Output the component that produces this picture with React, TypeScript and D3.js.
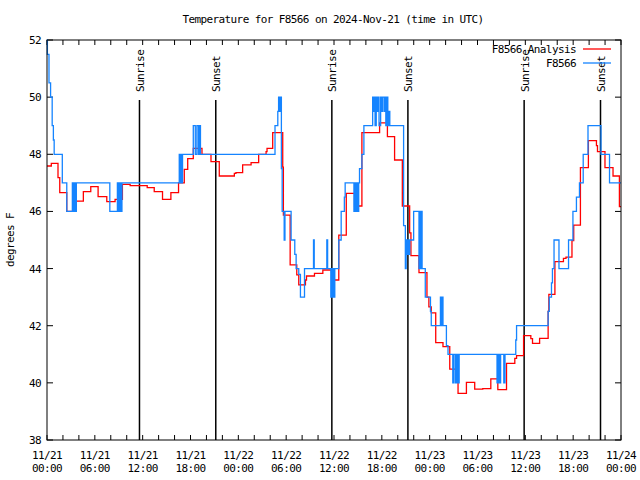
import React from "react";
import * as d3 from "d3";

const title = "Temperature for F8566 on 2024-Nov-21 (time in UTC)";
const yAxisLabel = "degrees F";
const seriesNames = ["F8566 Analysis", "F8566"];
const seriesColors = ["#ff0000", "#1584ff"];

const xTickHours = [0, 6, 12, 18, 24, 30, 36, 42, 48, 54, 60, 66, 72];
const xTickDates = ["11/21", "11/21", "11/21", "11/21", "11/22", "11/22", "11/22", "11/22", "11/23", "11/23", "11/23", "11/23", "11/24"];
const xTickTimes = ["00:00", "06:00", "12:00", "18:00", "00:00", "06:00", "12:00", "18:00", "00:00", "06:00", "12:00", "18:00", "00:00"];
const yTicks = [38, 40, 42, 44, 46, 48, 50, 52];

const sunriseHours = [11.6, 35.73, 59.85];
const sunsetHours = [21.17, 45.27, 69.43];

// [hours since 11/21 00:00 UTC, deg F]
const analysisPoints: [number, number][] = [
  [0, 47.59], [0.54, 47.68], [1.38, 47.18], [1.6, 46.66], [2.48, 46.0], [3.52, 46.19], [3.68, 46.36],
  [4.56, 46.69], [5.49, 46.87], [6.41, 46.52], [7.5, 46.34], [8.54, 46.42], [9.46, 46.95], [10.43, 46.9],
  [12.57, 46.83], [13.45, 46.69], [14.49, 46.42], [15.54, 46.66], [16.5, 47.0], [17.22, 47.47], [17.65, 47.85],
  [18.35, 48.21], [19.44, 48.0], [20.57, 47.74], [21.61, 47.24], [23.5, 47.33], [23.7, 47.36], [24.54, 47.63],
  [25.6, 47.71], [26.55, 48.0], [27.48, 48.09], [27.6, 48.21], [28.31, 48.76], [29.57, 47.55], [29.65, 45.87],
  [30.5, 44.13], [31.33, 43.78], [31.58, 43.43], [32.42, 43.6], [32.55, 43.74], [33.55, 43.83], [34.6, 43.95],
  [35.85, 43.6], [36.6, 45.17], [37.54, 46.63], [38.58, 46.19], [39.5, 48.76], [41.72, 49.1], [42.7, 48.62],
  [43.6, 47.8], [44.57, 46.19], [45.49, 45.25], [45.65, 44.45], [46.66, 43.86], [47.66, 43.0], [47.9, 42.66],
  [48.2, 42.45], [48.76, 41.41], [49.67, 41.27], [50.52, 40.48], [51.56, 39.63], [52.61, 40.02], [53.65, 39.78],
  [54.66, 39.8], [55.67, 40.14], [56.55, 39.76], [57.64, 40.68], [58.68, 40.86], [58.9, 40.95], [59.78, 41.65],
  [60.69, 41.55], [60.9, 41.38], [61.79, 41.56], [62.86, 42.5], [62.95, 43.1], [63.71, 44.24], [64.78, 44.36],
  [65.1, 44.4], [65.85, 44.98], [66.07, 45.52], [66.91, 47.53], [67.91, 48.48], [68.92, 48.3], [69.05, 48.09],
  [69.99, 47.53], [71.0, 47.24], [71.8, 46.17], [72, 46.17],
];

const observedPoints: [number, number][] = [
  [0, 52], [0.05, 51.5], [0.25, 50.5], [0.45, 50], [0.65, 49], [0.8, 48.5], [0.9, 48],
  [1.92, 47], [2.48, 46], [3.18, 47], [3.3, 46], [3.45, 47], [3.55, 46], [3.68, 47],
  [7.88, 46], [8.83, 47], [8.95, 46], [9.1, 47], [9.25, 46], [9.4, 47],
  [16.59, 48], [16.7, 47], [16.8, 48], [16.9, 47], [17.0, 48],
  [18.35, 49], [18.6, 48], [18.8, 49], [19.0, 48], [19.1, 49], [19.25, 48],
  [28.6, 49], [28.95, 49.5], [29.05, 50], [29.12, 49.5], [29.2, 50], [29.28, 49.5], [29.33, 50],
  [29.4, 47.5], [29.5, 46], [29.75, 45], [29.85, 46], [30.62, 45], [31.08, 44.5], [31.25, 44],
  [31.58, 43.8], [31.79, 43], [32.3, 44], [33.43, 45], [33.52, 44], [35.1, 45], [35.2, 44],
  [35.6, 43], [35.7, 44], [35.8, 43], [35.9, 44], [36.0, 43], [36.1, 44],
  [36.6, 45], [36.9, 46], [37.3, 46.5], [37.4, 47], [38.5, 46], [38.6, 47], [38.75, 46], [38.85, 47],
  [39.0, 46], [39.1, 47], [39.2, 47.5], [39.5, 48], [39.75, 49],
  [40.85, 50], [40.95, 49.5], [41.05, 50], [41.15, 49], [41.3, 50], [41.4, 49.5], [41.55, 50], [41.65, 49],
  [41.85, 50], [41.95, 49.5], [42.1, 50], [42.3, 49.5], [42.4, 50], [42.5, 49], [42.65, 50], [42.75, 49],
  [42.9, 49.5], [43.0, 49],
  [44.73, 45.5], [44.95, 44], [45.05, 45], [45.15, 44.5], [45.3, 45], [45.4, 44.5], [45.5, 45],
  [45.99, 46], [46.66, 44], [46.75, 46], [46.85, 44], [46.95, 46], [47.05, 44], [47.45, 43],
  [48.1, 42.5], [48.2, 42], [49.35, 43], [49.45, 42], [49.55, 43], [49.67, 42], [50.1, 41.3], [50.3, 41],
  [50.9, 40], [51.05, 41], [51.25, 40], [51.4, 41], [51.55, 40], [51.7, 41],
  [56.45, 40], [56.6, 41], [56.75, 40], [56.9, 41], [57.3, 40], [57.45, 41], [58.8, 41.5], [58.9, 42],
  [62.86, 42.5], [63.0, 43], [63.28, 43.5], [63.4, 44], [63.6, 45], [64.22, 44], [65.42, 45],
  [65.97, 46], [66.41, 46.5], [66.79, 47], [67.26, 48], [67.86, 49], [69.49, 48], [70.56, 47], [72, 47],
];

const W = 640;
const H = 480;
const M = { left: 47, right: 621, top: 40, bottom: 440 };
const FONT = "'DejaVu Sans Mono', monospace";

export default function App() {
  const x = d3.scaleLinear().domain([0, 72]).range([M.left, M.right]);
  const y = d3.scaleLinear().domain([38, 52]).range([M.bottom, M.top]);
  const line = d3
    .line<[number, number]>()
    .x((d) => x(d[0]))
    .y((d) => y(d[1]))
    .curve(d3.curveStepAfter);
  const minorHours = d3.range(0, 73, 2);
  const textStyle = { fontFamily: FONT, fontSize: 11, letterSpacing: -0.6, fill: "#000" } as const;

  return (
    <svg
      width={W}
      height={H}
      style={{ position: "absolute", left: 0, top: 0, background: "#fff" }}
    >
      <rect x={0} y={0} width={W} height={H} fill="#fff" />
      <text x={333} y={23} textAnchor="middle" {...textStyle}>{title}</text>

      {/* ticks */}
      {minorHours.map((h) => (
        <g key={"xt" + h}>
          <line x1={x(h)} x2={x(h)} y1={M.bottom} y2={M.bottom - 5} stroke="#000" />
          <line x1={x(h)} x2={x(h)} y1={M.top} y2={M.top + 5} stroke="#000" />
        </g>
      ))}
      {yTicks.map((v) => (
        <g key={"yt" + v}>
          <line x1={M.left} x2={M.left + 6} y1={y(v)} y2={y(v)} stroke="#000" />
          <line x1={M.right} x2={M.right - 6} y1={y(v)} y2={y(v)} stroke="#000" />
          <text x={41} y={y(v) + 4} textAnchor="end" {...textStyle}>{v}</text>
        </g>
      ))}
      {xTickHours.map((h, i) => (
        <g key={"xl" + h}>
          <text x={x(h)} y={459} textAnchor="middle" {...textStyle}>{xTickDates[i]}</text>
          <text x={x(h)} y={472} textAnchor="middle" {...textStyle}>{xTickTimes[i]}</text>
        </g>
      ))}
      <text
        transform={`translate(14,${(M.top + M.bottom) / 2}) rotate(-90)`}
        textAnchor="middle"
        {...textStyle}
      >
        {yAxisLabel}
      </text>

      {/* sunrise / sunset */}
      {sunriseHours.map((h) => (
        <g key={"sr" + h}>
          <line x1={x(h)} x2={x(h)} y1={y(49.9)} y2={y(38)} stroke="#000" strokeWidth={1.5} />
          <text transform={`translate(${x(h) + 4.5},92) rotate(-90)`} {...textStyle}>Sunrise</text>
        </g>
      ))}
      {sunsetHours.map((h) => (
        <g key={"ss" + h}>
          <line x1={x(h)} x2={x(h)} y1={y(49.9)} y2={y(38)} stroke="#000" strokeWidth={1.5} />
          <text transform={`translate(${x(h) + 4.5},92) rotate(-90)`} {...textStyle}>Sunset</text>
        </g>
      ))}

      {/* data */}
      <path d={line(analysisPoints) ?? ""} fill="none" stroke={seriesColors[0]} strokeWidth={1.3} />
      <path d={line(observedPoints) ?? ""} fill="none" stroke={seriesColors[1]} strokeWidth={1.3} />

      {/* legend */}
      <text x={576} y={53} textAnchor="end" {...textStyle}>{seriesNames[0]}</text>
      <line x1={583} x2={611} y1={49} y2={49} stroke={seriesColors[0]} strokeWidth={1.3} />
      <text x={576} y={67} textAnchor="end" {...textStyle}>{seriesNames[1]}</text>
      <line x1={583} x2={611} y1={63} y2={63} stroke={seriesColors[1]} strokeWidth={1.3} />

      {/* border */}
      <rect
        x={M.left}
        y={M.top}
        width={M.right - M.left}
        height={M.bottom - M.top}
        fill="none"
        stroke="#000"
      />
    </svg>
  );
}
